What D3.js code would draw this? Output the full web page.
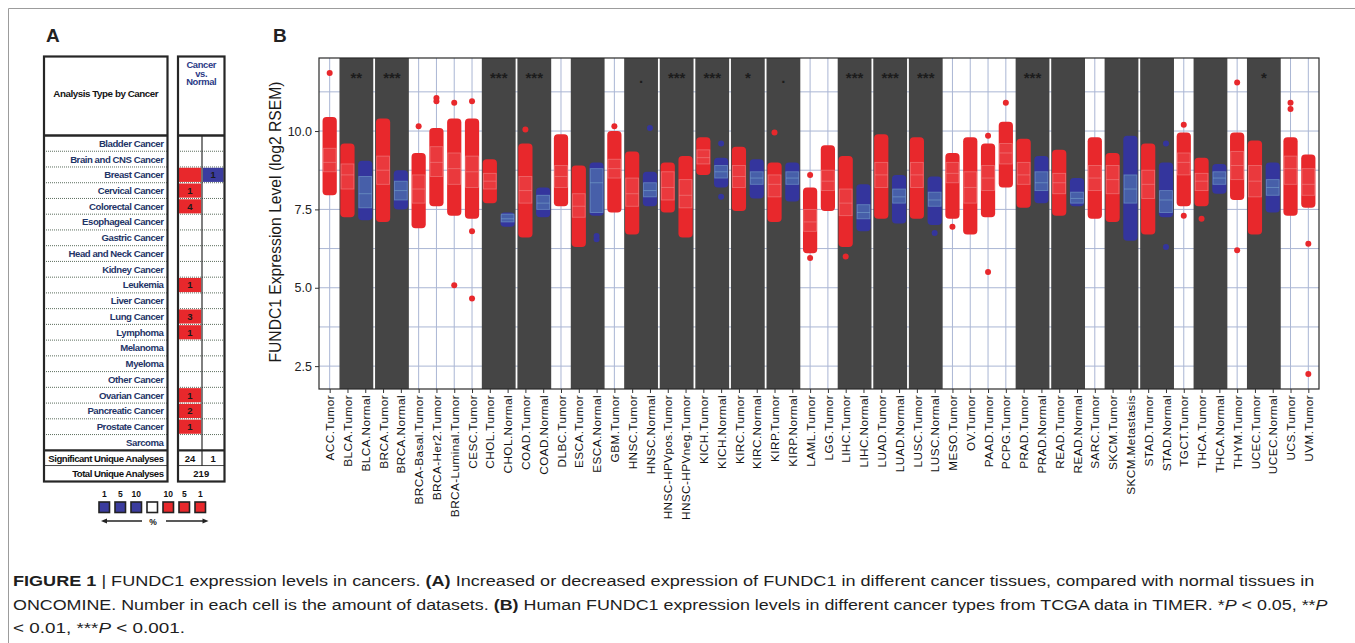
<!DOCTYPE html>
<html>
<head>
<script src="https://d3js.org/d3.v7.min.js"></script>
<style>
  body { margin: 0; background: #fff; }
  text { font-family: "Liberation Sans", Arial, Helvetica, sans-serif; }
</style>
</head>
<body>
<script>
// ---------- Panel B data ----------
var categories = ["ACC.Tumor","BLCA.Tumor","BLCA.Normal","BRCA.Tumor","BRCA.Normal",
  "BRCA-Basal.Tumor","BRCA-Her2.Tumor","BRCA-Luminal.Tumor","CESC.Tumor","CHOL.Tumor",
  "CHOL.Normal","COAD.Tumor","COAD.Normal","DLBC.Tumor","ESCA.Tumor","ESCA.Normal",
  "GBM.Tumor","HNSC.Tumor","HNSC.Normal","HNSC-HPVpos.Tumor","HNSC-HPVneg.Tumor",
  "KICH.Tumor","KICH.Normal","KIRC.Tumor","KIRC.Normal","KIRP.Tumor","KIRP.Normal",
  "LAML.Tumor","LGG.Tumor","LIHC.Tumor","LIHC.Normal","LUAD.Tumor","LUAD.Normal",
  "LUSC.Tumor","LUSC.Normal","MESO.Tumor","OV.Tumor","PAAD.Tumor","PCPG.Tumor",
  "PRAD.Tumor","PRAD.Normal","READ.Tumor","READ.Normal","SARC.Tumor","SKCM.Tumor",
  "SKCM.Metastasis","STAD.Tumor","STAD.Normal","TGCT.Tumor","THCA.Tumor","THCA.Normal",
  "THYM.Tumor","UCEC.Tumor","UCEC.Normal","UCS.Tumor","UVM.Tumor"];

// extent of the dense part of each point cloud
var cloudLow  = [7.95,7.25,7.15,7.1,7.5, 6.9,7.6,7.3,7.2,7.7, 6.95,6.6,7.25,7.6,6.3, 7.3,7.4,6.7,7.6,7.4,
  6.6,8.6,8.2,7.45,7.85, 7.1,7.75,6.1,7.45,6.3, 6.8,7.2,7.05,7.2,7.0, 7.2,6.7,7.25,8.2,7.55,
  7.7,7.3,7.6,7.2,7.1, 6.5,6.7,7.25,7.6,7.6, 8.0,7.8,6.7,7.4,7.3, 7.55];
var cloudHigh = [10.45,9.6,9.05,10.4,8.75, 9.3,10.1,10.4,10.4,9.1, 7.4,9.6,8.2,9.9,8.9, 9.0,10.0,9.35,8.7,9.0,
  9.2,9.8,9.15,9.5,9.1, 9.0,9.0,8.2,9.55,9.2, 8.3,9.9,8.6,9.8,8.55, 9.3,9.8,9.6,10.3,9.75,
  9.2,9.4,8.5,9.8,9.3, 9.85,9.6,9.0,9.95,9.15, 8.95,9.95,9.7,9.0,9.8, 9.25];
// boxplot quartiles
var boxQ1  = [8.7,8.15,7.55,8.3,7.8, 7.7,8.55,8.3,8.2,8.15, 7.1,7.7,7.5,8.2,7.25, 7.4,8.5,7.6,7.9,7.8,
  7.55,8.95,8.5,8.2,8.3, 7.9,8.3,6.8,8.1,7.3, 7.2,8.2,7.7,8.2,7.6, 8.35,7.7,8.1,8.95,8.3,
  8.1,8.0,7.7,8.1,8.0, 7.7,7.85,7.4,8.6,8.1, 8.3,8.45,7.9,7.95,8.3, 7.95];
var boxMedian = [9.0,8.6,8.0,8.75,8.1, 8.15,9.0,8.8,8.7,8.4, 7.2,8.1,7.7,8.55,7.6, 8.35,8.8,8.0,8.1,8.2,
  7.95,9.15,8.7,8.55,8.5, 8.3,8.5,7.1,8.4,7.7, 7.4,8.6,7.9,8.6,7.8, 8.65,8.2,8.5,9.3,8.6,
  8.35,8.35,7.85,8.5,8.45, 8.15,8.3,7.8,9.0,8.4, 8.5,8.9,8.4,8.2,8.8, 8.3];
var boxQ3  = [9.45,8.95,8.55,9.2,8.4, 8.6,9.5,9.3,9.2,8.65, 7.35,8.55,7.95,8.9,8.0, 8.8,9.1,8.5,8.35,8.7,
  8.45,9.4,8.9,8.9,8.7, 8.6,8.7,7.5,8.75,8.15, 7.65,9.0,8.15,9.0,8.05, 9.0,8.7,8.9,9.6,9.0,
  8.7,8.65,8.05,8.9,8.9, 8.6,8.75,8.1,9.3,8.65, 8.7,9.35,8.9,8.45,9.2, 8.8];

// isolated points outside the dense clouds
var outliers = [["ACC.Tumor",11.85],["BRCA-Basal.Tumor",10.15],["BRCA-Her2.Tumor",11.05],
  ["BRCA-Her2.Tumor",10.95],["BRCA-Luminal.Tumor",10.9],["BRCA-Luminal.Tumor",5.08],
  ["CESC.Tumor",10.95],["CESC.Tumor",6.8],["CESC.Tumor",4.66],["COAD.Tumor",10.05],
  ["ESCA.Normal",6.55],["ESCA.Normal",6.65],["GBM.Tumor",10.15],["HNSC.Normal",10.1],
  ["KICH.Normal",9.6],["KICH.Normal",7.9],["KIRP.Tumor",9.95],["LAML.Tumor",8.6],
  ["LAML.Tumor",5.95],["LIHC.Tumor",6.0],["LUSC.Normal",6.75],["MESO.Tumor",6.95],
  ["PAAD.Tumor",9.85],["PAAD.Tumor",5.5],["PCPG.Tumor",10.9],["STAD.Normal",6.3],
  ["STAD.Normal",9.6],["TGCT.Tumor",10.2],["TGCT.Tumor",7.3],["THCA.Tumor",7.2],
  ["THYM.Tumor",11.55],["THYM.Tumor",6.2],["UCS.Tumor",10.9],["UCS.Tumor",10.7],
  ["UVM.Tumor",6.4],["UVM.Tumor",2.25]];

// shaded tumor/normal pairs and their significance marks
var pairs = [["BLCA.Tumor","BLCA.Normal","**"],["BRCA.Tumor","BRCA.Normal","***"],
  ["CHOL.Tumor","CHOL.Normal","***"],["COAD.Tumor","COAD.Normal","***"],
  ["ESCA.Tumor","ESCA.Normal",""],["HNSC.Tumor","HNSC.Normal","."],
  ["HNSC-HPVpos.Tumor","HNSC-HPVneg.Tumor","***"],["KICH.Tumor","KICH.Normal","***"],
  ["KIRC.Tumor","KIRC.Normal","*"],["KIRP.Tumor","KIRP.Normal","."],
  ["LIHC.Tumor","LIHC.Normal","***"],["LUAD.Tumor","LUAD.Normal","***"],
  ["LUSC.Tumor","LUSC.Normal","***"],["PRAD.Tumor","PRAD.Normal","***"],
  ["READ.Tumor","READ.Normal",""],["SKCM.Tumor","SKCM.Metastasis",""],
  ["STAD.Tumor","STAD.Normal",""],["THCA.Tumor","THCA.Normal",""],
  ["UCEC.Tumor","UCEC.Normal","*"]];

var yTicks = [2.5, 5.0, 7.5, 10.0];
var yMinor = [3.75, 6.25, 8.75, 11.25];

// ---------- Panel A data ----------
var cancerTypes = ["Bladder Cancer","Brain and CNS Cancer","Breast Cancer","Cervical Cancer",
  "Colorectal Cancer","Esophageal Cancer","Gastric Cancer","Head and Neck Cancer","Kidney Cancer",
  "Leukemia","Liver Cancer","Lung Cancer","Lymphoma","Melanoma","Myeloma","Other Cancer",
  "Ovarian Cancer","Pancreatic Cancer","Prostate Cancer","Sarcoma"];
// null = no significant analysis; "" = cell without readable number
var upCounts   = [null,null,"","1","4",null,null,null,null,"1",null,"3","1",null,null,null,"1","2","1",null];
var downCounts = [null,null,"1",null,null,null,null,null,null,null,null,null,null,null,null,null,null,null,null,null];
var significantUp = "24", significantDown = "1", totalAnalyses = "219";
var legendBlue = ["1","5","10"];
var legendRed = ["10","5","1"];

// ---------- drawing ----------
var W = 1355, H = 643;
var RED = "#e8282c", BLUE = "#34359d", DARK = "#454545";

var svg = d3.select("body").append("svg")
  .attr("width", W)
  .attr("height", H);

//Outer figure frame
svg.append("path")
  .attr("d", "M8.5," + H + "V8.5H" + W)
  .attr("fill", "none")
  .attr("stroke", "#9c9c9c");

//Panel letters
svg.append("text").attr("x", 46).attr("y", 42).text("A")
  .style("font-size", "19px").style("font-weight", "bold").attr("fill", "#222");
svg.append("text").attr("x", 273).attr("y", 42).text("B")
  .style("font-size", "19px").style("font-weight", "bold").attr("fill", "#222");

// ===== Panel B =====
var plot = {left: 319, right: 1319, top: 58, bottom: 389};

var x = d3.scalePoint()
  .domain(categories)
  .range([plot.left, plot.right])
  .padding(0.6);
var step = x.step();

var y = d3.scaleLinear()
  .domain([1.77, 12.33])
  .range([plot.bottom, plot.top]);

var gB = svg.append("g");

//Grid
gB.append("g").selectAll("line")
  .data(yTicks.concat(yMinor))
  .enter().append("line")
    .attr("x1", plot.left).attr("x2", plot.right)
    .attr("y1", function(d){ return y(d); })
    .attr("y2", function(d){ return y(d); })
    .attr("stroke", "#aab6d4")
    .attr("stroke-width", 1);
gB.append("g").selectAll("line")
  .data(categories)
  .enter().append("line")
    .attr("x1", function(d){ return x(d); })
    .attr("x2", function(d){ return x(d); })
    .attr("y1", plot.top).attr("y2", plot.bottom)
    .attr("stroke", "#aab6d4")
    .attr("stroke-width", 1);

//Dark backgrounds behind paired groups
gB.append("g").selectAll("rect")
  .data(pairs)
  .enter().append("rect")
    .attr("x", function(d){ return x(d[0]) - step / 2 + 0.9; })
    .attr("width", function(d){ return x(d[1]) - x(d[0]) + step - 1.8; })
    .attr("y", plot.top)
    .attr("height", plot.bottom - plot.top)
    .attr("fill", DARK);

function colourOf(name){
  return /Tumor$/.test(name) ? RED : BLUE;
}

//Point clouds (dense part)
var cloudW = step * 0.8;
gB.append("g").selectAll("rect")
  .data(categories)
  .enter().append("rect")
    .attr("x", function(d){ return x(d) - cloudW / 2; })
    .attr("width", cloudW)
    .attr("y", function(d, i){ return y(cloudHigh[i]); })
    .attr("height", function(d, i){ return y(cloudLow[i]) - y(cloudHigh[i]); })
    .attr("rx", 4)
    .attr("fill", colourOf);

//Boxplots, mostly hidden behind the points like in the original
var boxW = step * 0.72;
function boxStroke(d){ return colourOf(d) == RED ? "#f3a9a9" : "#8fc3dc"; }
var boxes = gB.append("g").selectAll("g")
  .data(categories)
  .enter().append("g");
boxes.append("rect")
  .attr("x", function(d){ return x(d) - boxW / 2; })
  .attr("width", boxW)
  .attr("y", function(d, i){ return y(boxQ3[i]); })
  .attr("height", function(d, i){ return y(boxQ1[i]) - y(boxQ3[i]); })
  .attr("fill", function(d){ return colourOf(d) == RED ? "#f06466" : "#5f93b8"; })
  .attr("fill-opacity", function(d){ return colourOf(d) == RED ? 0.3 : 0.45; })
  .attr("stroke", boxStroke)
  .attr("stroke-opacity", 0.45)
  .attr("stroke-width", 0.9);
boxes.append("line")
  .attr("x1", function(d){ return x(d) - boxW / 2; })
  .attr("x2", function(d){ return x(d) + boxW / 2; })
  .attr("y1", function(d, i){ return y(boxMedian[i]); })
  .attr("y2", function(d, i){ return y(boxMedian[i]); })
  .attr("stroke", boxStroke)
  .attr("stroke-opacity", 0.45)
  .attr("stroke-width", 0.9);

//Isolated points
gB.append("g").selectAll("circle")
  .data(outliers)
  .enter().append("circle")
    .attr("cx", function(d){ return x(d[0]); })
    .attr("cy", function(d){ return y(d[1]); })
    .attr("r", 3)
    .attr("fill", function(d){ return colourOf(d[0]); });

//Significance marks
gB.append("g").selectAll("text")
  .data(pairs)
  .enter().append("text")
    .attr("x", function(d){ return (x(d[0]) + x(d[1])) / 2; })
    .attr("y", 82.5)
    .attr("text-anchor", "middle")
    .style("font-size", "15px")
    .style("font-weight", "bold")
    .attr("fill", "#1c1c1c")
    .text(function(d){ return d[2]; });

//Panel border
gB.append("rect")
  .attr("x", plot.left).attr("y", plot.top)
  .attr("width", plot.right - plot.left)
  .attr("height", plot.bottom - plot.top)
  .attr("fill", "none")
  .attr("stroke", "#2a2a2a")
  .attr("stroke-width", 1.2);

//Axes
var yAxis = gB.append("g")
  .attr("transform", "translate(" + plot.left + ",0)")
  .call(d3.axisLeft(y).tickValues(yTicks).tickFormat(d3.format(".1f")).tickSize(4).tickPadding(3));
yAxis.select(".domain").remove();
yAxis.selectAll("text").style("font-size", "12.5px").attr("fill", "#222");
yAxis.selectAll("line").attr("stroke", "#333");

var xAxis = gB.append("g")
  .attr("transform", "translate(0," + plot.bottom + ")")
  .call(d3.axisBottom(x).tickSize(4));
xAxis.select(".domain").remove();
xAxis.selectAll("line").attr("stroke", "#333");
xAxis.selectAll("text")
  .attr("transform", "translate(0,6) rotate(-90)")
  .attr("x", 0).attr("y", 0)
  .attr("dy", "0.35em")
  .attr("text-anchor", "end")
  .style("font-size", "11.8px")
  .style("letter-spacing", "0.4px")
  .attr("fill", "#111");

//Y title
gB.append("text")
  .attr("transform", "translate(281,222) rotate(-90)")
  .attr("text-anchor", "middle")
  .attr("textLength", 281)
  .attr("lengthAdjust", "spacingAndGlyphs")
  .style("font-size", "16px")
  .attr("fill", "#1a1a1a")
  .text("FUNDC1 Expression Level (log2 RSEM)");

// ===== Panel A =====
var gA = svg.append("g");
var rowTop = 135.5, rowH = 15.74;
var tabBottom = 481.5, sumTop = rowTop + cancerTypes.length * rowH;
var left = {x0: 44, x1: 167.5}, right = {x0: 178, x1: 224.5, mid: 202};
var NAVY = "#1f3567";

//Row separators
cancerTypes.forEach(function(c, i){
  if(i == 0) return;
  var yy = rowTop + i * rowH;
  [left, right].forEach(function(b){
    gA.append("line")
      .attr("x1", b.x0).attr("x2", b.x1)
      .attr("y1", yy).attr("y2", yy)
      .attr("stroke", "#4a5e4c")
      .attr("stroke-dasharray", "1,1")
      .attr("stroke-width", 0.9);
  });
});
gA.append("line")
  .attr("x1", left.x0).attr("x2", left.x1)
  .attr("y1", sumTop + rowH - 0.5).attr("y2", sumTop + rowH - 0.5)
  .attr("stroke", "#333").attr("stroke-width", 0.9);
gA.append("line")
  .attr("x1", right.x0).attr("x2", right.x1)
  .attr("y1", sumTop + rowH - 0.5).attr("y2", sumTop + rowH - 0.5)
  .attr("stroke", "#333").attr("stroke-width", 0.9);

//Coloured cells
cancerTypes.forEach(function(c, i){
  var yy = rowTop + i * rowH;
  if(upCounts[i] !== null){
    gA.append("rect").attr("x", right.x0 + 0.8).attr("y", yy + 0.8)
      .attr("width", right.mid - right.x0 - 1.6).attr("height", rowH - 1.6).attr("fill", RED);
    gA.append("text").attr("x", (right.x0 + right.mid) / 2).attr("y", yy + rowH / 2 + 3.3)
      .attr("text-anchor", "middle").style("font-size", "9.5px").style("font-weight", "bold")
      .attr("fill", "#1a1a1a").text(upCounts[i]);
  }
  if(downCounts[i] !== null){
    gA.append("rect").attr("x", right.mid + 0.8).attr("y", yy + 0.8)
      .attr("width", right.x1 - right.mid - 1.6).attr("height", rowH - 1.6).attr("fill", "#3b3c9e");
    gA.append("text").attr("x", (right.mid + right.x1) / 2).attr("y", yy + rowH / 2 + 3.3)
      .attr("text-anchor", "middle").style("font-size", "9.5px").style("font-weight", "bold")
      .attr("fill", "#1a1a1a").text(downCounts[i]);
  }
  gA.append("text").attr("x", left.x1 - 4).attr("y", yy + rowH / 2 + 3.4)
    .attr("text-anchor", "end").style("font-size", "9.6px").style("font-weight", "bold")
    .style("letter-spacing", "-0.45px")
    .attr("fill", NAVY).text(c);
});

//Summary rows
gA.append("text").attr("x", left.x1 - 4).attr("y", sumTop + rowH / 2 + 3.4)
  .attr("text-anchor", "end").style("font-size", "9.6px").style("font-weight", "bold")
  .style("letter-spacing", "-0.5px").attr("fill", "#111").text("Significant Unique Analyses");
gA.append("text").attr("x", left.x1 - 4).attr("y", sumTop + rowH * 1.5 + 3.4)
  .attr("text-anchor", "end").style("font-size", "9.6px").style("font-weight", "bold")
  .style("letter-spacing", "-0.5px").attr("fill", "#111").text("Total Unique Analyses");
gA.append("text").attr("x", (right.x0 + right.mid) / 2).attr("y", sumTop + rowH / 2 + 3.4)
  .attr("text-anchor", "middle").style("font-size", "9.5px").style("font-weight", "bold")
  .attr("fill", "#111").text(significantUp);
gA.append("text").attr("x", (right.mid + right.x1) / 2).attr("y", sumTop + rowH / 2 + 3.4)
  .attr("text-anchor", "middle").style("font-size", "9.5px").style("font-weight", "bold")
  .attr("fill", "#111").text(significantDown);
gA.append("text").attr("x", (right.x0 + right.x1) / 2).attr("y", sumTop + rowH * 1.5 + 3.4)
  .attr("text-anchor", "middle").style("font-size", "9.5px").style("font-weight", "bold")
  .attr("fill", "#111").text(totalAnalyses);

//Middle divider of right table
gA.append("line").attr("x1", right.mid).attr("x2", right.mid)
  .attr("y1", rowTop).attr("y2", sumTop + rowH)
  .attr("stroke", "#2a2a2a").attr("stroke-width", 1.2);

//Thick frames and dividers
[left, right].forEach(function(b){
  gA.append("rect").attr("x", b.x0).attr("y", 56.5)
    .attr("width", b.x1 - b.x0).attr("height", tabBottom - 56.5)
    .attr("fill", "none").attr("stroke", "#262626").attr("stroke-width", 2.2);
  gA.append("line").attr("x1", b.x0).attr("x2", b.x1)
    .attr("y1", rowTop).attr("y2", rowTop)
    .attr("stroke", "#262626").attr("stroke-width", 2.6);
  gA.append("line").attr("x1", b.x0).attr("x2", b.x1)
    .attr("y1", sumTop).attr("y2", sumTop)
    .attr("stroke", "#262626").attr("stroke-width", 2.2);
});

//Headers
gA.append("text").attr("x", (left.x0 + left.x1) / 2).attr("y", 97)
  .attr("text-anchor", "middle").style("font-size", "9.8px").style("font-weight", "bold")
  .style("letter-spacing", "-0.45px").attr("fill", "#151515").text("Analysis Type by Cancer");
["Cancer", "vs.", "Normal"].forEach(function(t, i){
  gA.append("text").attr("x", (right.x0 + right.x1) / 2).attr("y", 68 + i * 8.6)
    .attr("text-anchor", "middle").style("font-size", "9.4px").style("font-weight", "bold")
    .style("letter-spacing", "-0.35px").attr("fill", "#2a3a86").text(t);
});

//Legend
var legendCols = ["#3b3c9e", "#3b3c9e", "#3b3c9e", "#ffffff", RED, RED, RED];
var legendLbl = legendBlue.concat([""]).concat(legendRed);
var sq = 10.5, lx0 = 99, lgap = 16;
legendCols.forEach(function(c, i){
  var lx = lx0 + i * lgap;
  gA.append("rect").attr("x", lx).attr("y", 502).attr("width", sq).attr("height", sq)
    .attr("fill", c).attr("stroke", "#222").attr("stroke-width", 1.6);
  gA.append("text").attr("x", lx + sq / 2).attr("y", 497).attr("text-anchor", "middle")
    .style("font-size", "8.5px").style("font-weight", "bold").attr("fill", "#111").text(legendLbl[i]);
});
gA.append("line").attr("x1", 142).attr("x2", 104).attr("y1", 521).attr("y2", 521)
  .attr("stroke", "#222").attr("stroke-width", 1.3);
gA.append("path").attr("d", "M101,521l6,-2.5v5z").attr("fill", "#222");
gA.append("line").attr("x1", 166).attr("x2", 205).attr("y1", 521).attr("y2", 521)
  .attr("stroke", "#222").attr("stroke-width", 1.3);
gA.append("path").attr("d", "M208.5,521l-6,-2.5v5z").attr("fill", "#222");
gA.append("text").attr("x", 153).attr("y", 524.5).attr("text-anchor", "middle")
  .style("font-size", "8.5px").style("font-weight", "bold").attr("fill", "#111").text("%");

// ===== Caption =====
var captionLines = [
  {y: 586, w: 1303, parts: [["FIGURE 1", "b"], [" | FUNDC1 expression levels in cancers. ", ""], ["(A)", "b"],
    [" Increased or decreased expression of FUNDC1 in different cancer tissues, compared with normal tissues in", ""]]},
  {y: 610, w: 1316, parts: [["ONCOMINE. Number in each cell is the amount of datasets. ", ""], ["(B)", "b"],
    [" Human FUNDC1 expression levels in different cancer types from TCGA data in TIMER. *", ""], ["P", "i"],
    [" < 0.05, **", ""], ["P", "i"]]},
  {y: 633, w: 172, parts: [["< 0.01, ***", ""], ["P", "i"], [" < 0.001.", ""]]}
];
captionLines.forEach(function(line){
  var t = svg.append("text")
    .attr("x", 0).attr("y", 0)
    .style("font-size", "15.5px")
    .attr("fill", "#1e1e1e");
  line.parts.forEach(function(p){
    var ts = t.append("tspan").text(p[0]);
    if(p[1] == "b") ts.style("font-weight", "bold");
    if(p[1] == "i") ts.style("font-style", "italic");
  });
  //stretch each line to the width it has in the figure
  var k = line.w / t.node().getComputedTextLength();
  t.attr("transform", "translate(13," + line.y + ") scale(" + k + ",1)");
});
</script>
</body>
</html>
